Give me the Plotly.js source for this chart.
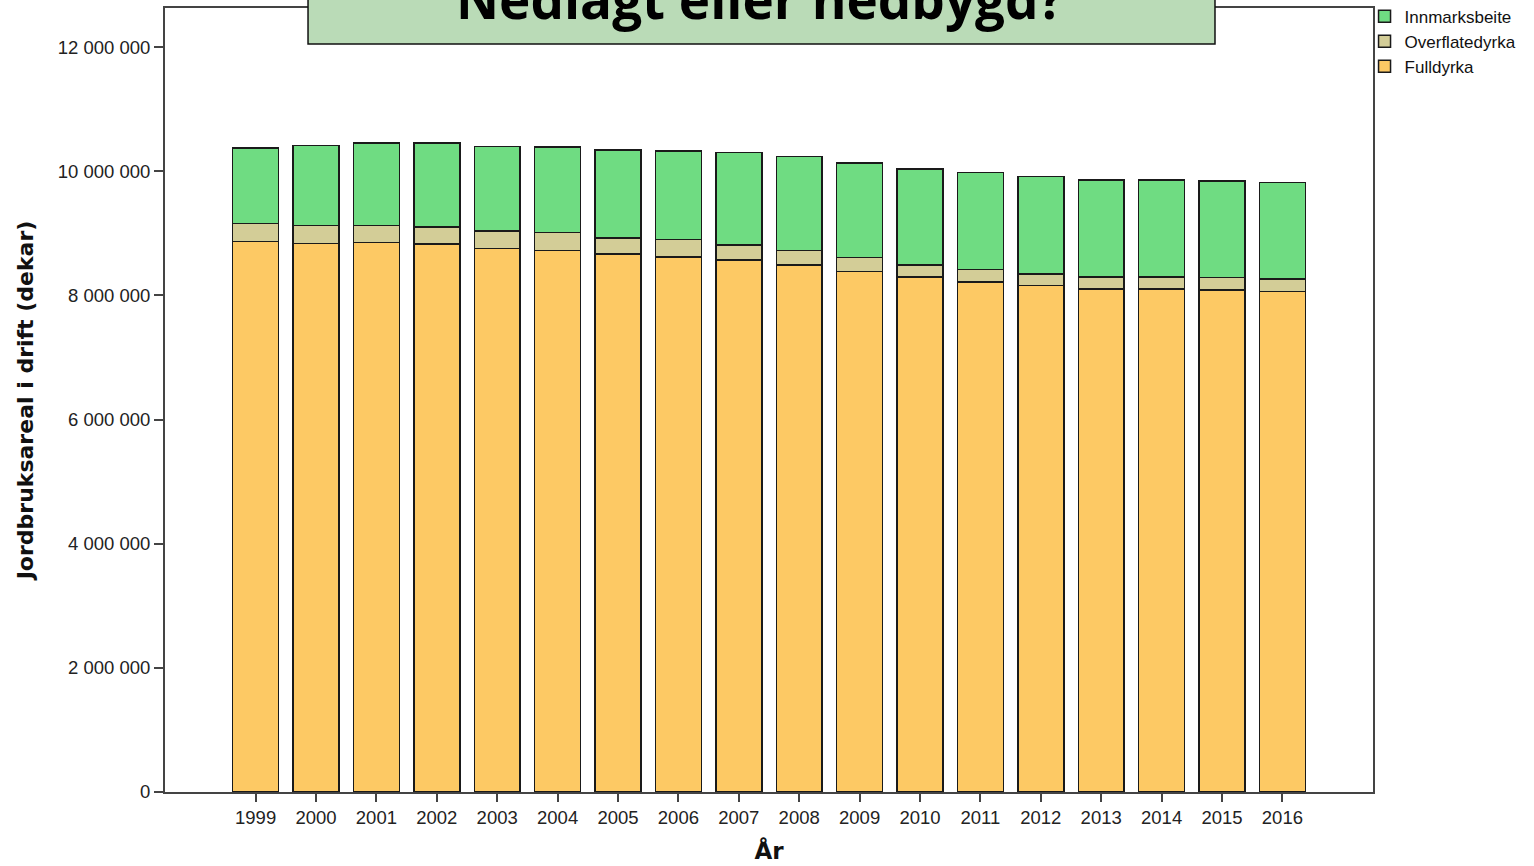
<!DOCTYPE html>
<html>
<head>
<meta charset="utf-8">
<script src="https://cdn.plot.ly/plotly-3.0.1.min.js"></script>
<style>html,body{margin:0;padding:0;background:#fff;}#chart{width:1534px;height:866px;}</style>
</head>
<body>
<div id="chart"></div>
<script>
var years = ["1999","2000","2001","2002","2003","2004","2005","2006","2007","2008","2009","2010","2011","2012","2013","2014","2015","2016"];
var fulldyrka = [8870000,8838000,8854000,8827000,8757000,8725000,8666000,8622000,8569000,8493000,8387000,8295000,8219000,8161000,8102000,8102000,8091000,8065000];
var overflatedyrka = [290000,290000,271000,274000,284000,290000,262000,280000,246000,232000,225000,198000,200000,187000,198000,198000,199000,203000];
var innmarksbeite = [1213000,1288000,1328000,1352000,1359000,1379000,1413000,1428000,1488000,1514000,1524000,1547000,1562000,1569000,1557000,1557000,1556000,1552000];
var yTickVals = [0,2000000,4000000,6000000,8000000,10000000,12000000];
var yTickText = ["0","2 000 000","4 000 000","6 000 000","8 000 000","10 000 000","12 000 000"];

var lineStyle = {color:'#1a1a1a', width:1.5};
var traces = [
  {type:'bar', name:'Fulldyrka', x:years, y:fulldyrka, marker:{color:'#fdc964', line:lineStyle}},
  {type:'bar', name:'Overflatedyrka', x:years, y:overflatedyrka, marker:{color:'#d3cd97', line:lineStyle}},
  {type:'bar', name:'Innmarksbeite', x:years, y:innmarksbeite, marker:{color:'#6fdc82', line:lineStyle}}
];

var layout = {
  width:1534, height:866,
  margin:{l:165, r:161, t:8, b:74, autoexpand:false},
  paper_bgcolor:'#ffffff', plot_bgcolor:'#ffffff',
  barmode:'stack', bargap:0.24,
  showlegend:true,
  legend:{x:0.993, y:1.012, xanchor:'left', yanchor:'top', traceorder:'reversed',
          font:{family:'Liberation Sans, Arial, sans-serif', size:17, color:'#111'},
          tracegroupgap:0, itemwidth:30, bgcolor:'rgba(0,0,0,0)'},
  xaxis:{type:'category', range:[-1.5,18.5], showgrid:false, zeroline:false,
         showline:true, linecolor:'#444', linewidth:2, mirror:true,
         ticks:'outside', ticklen:8, tickwidth:2, tickcolor:'#444',
         tickfont:{family:'Liberation Sans, Arial, sans-serif', size:18.5, color:'#222'},
         title:{text:'År', font:{family:'DejaVu Sans, sans-serif', size:23, color:'#111', weight:'bold'}, standoff:16}},
  yaxis:{range:[0,12630000], showgrid:false, zeroline:false,
         showline:true, linecolor:'#444', linewidth:2, mirror:true,
         ticks:'outside', ticklen:9, tickwidth:2, tickcolor:'#444',
         tickvals:yTickVals, ticktext:yTickText,
         tickfont:{family:'Liberation Sans, Arial, sans-serif', size:18.5, color:'#222'},
         title:{text:'Jordbruksareal i drift (dekar)', font:{family:'DejaVu Sans, sans-serif', size:22, color:'#111', weight:'bold'}, standoff:18}},
  shapes:[{type:'rect', xref:'paper', yref:'paper', x0:0.1184, x1:0.8692, y0:0.954, y1:1.03,
           fillcolor:'#badbb7', line:{color:'#111', width:1.5}, layer:'above'}],
  annotations:[{xref:'paper', yref:'paper', x:0.4926, y:1.0115, xanchor:'center', yanchor:'middle',
                text:'<b>Nedlagt eller nedbygd?</b>', showarrow:false,
                font:{family:'Open Sans, Noto Sans, sans-serif', size:53, color:'#000'}}]
};
Plotly.newPlot('chart', traces, layout, {displayModeBar:false, staticPlot:true});
</script>
</body>
</html>
